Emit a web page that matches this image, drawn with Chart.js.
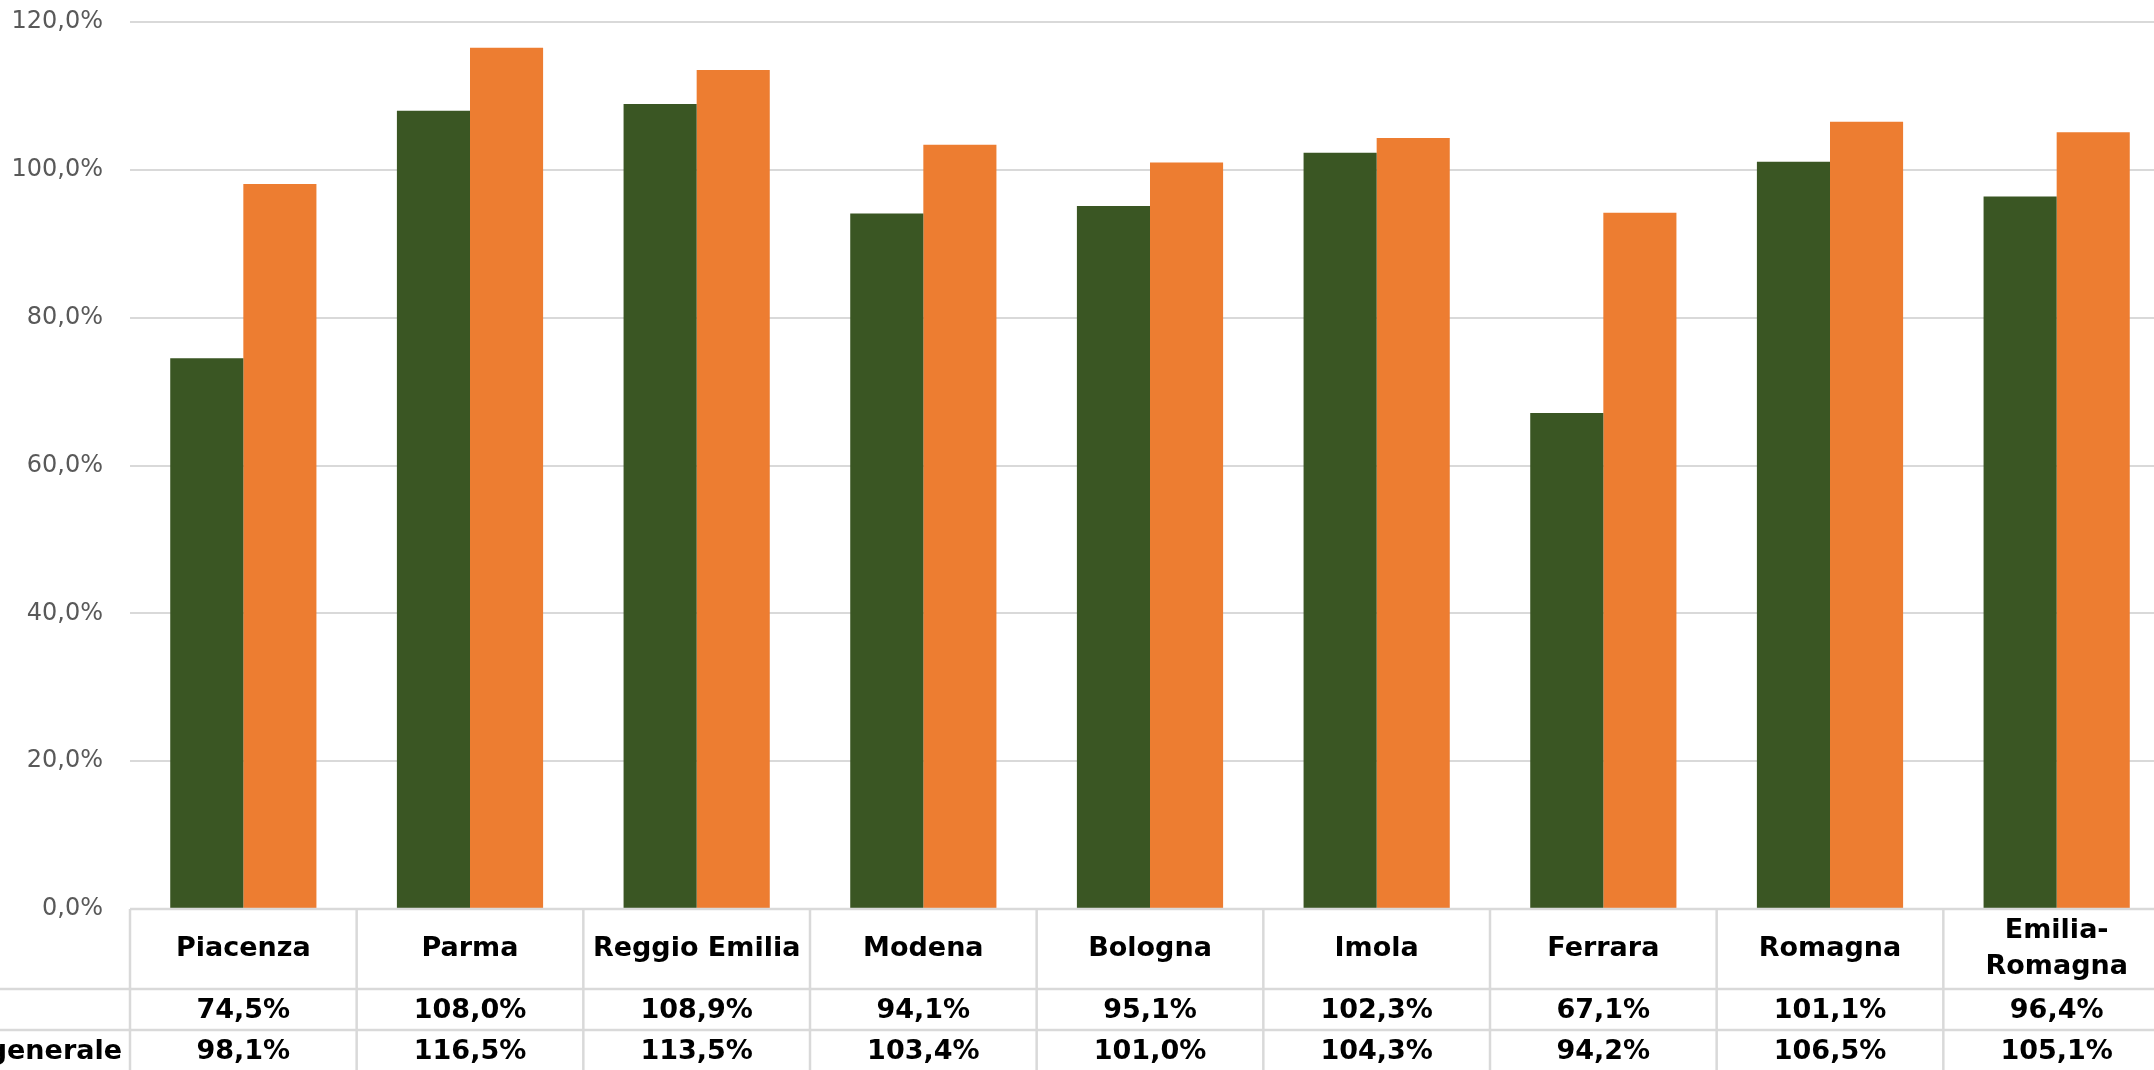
<!DOCTYPE html>
<html>
<head>
<meta charset="utf-8">
<script src="https://cdn.jsdelivr.net/npm/chart.js@4"></script>
<style>
  html, body { margin: 0; padding: 0; background: #fff; overflow: hidden; }
  #wrap { width: 2154px; height: 1070px; overflow: hidden; }
</style>
</head>
<body>
<div id="wrap"><canvas id="chart" width="2170" height="1070"></canvas></div>
<script>
// categories and the two series (percent)
const categories = ["Piacenza", "Parma", "Reggio Emilia", "Modena", "Bologna", "Imola", "Ferrara", "Romagna", "Emilia-Romagna"];
const headerLines = [["Piacenza"], ["Parma"], ["Reggio Emilia"], ["Modena"], ["Bologna"], ["Imola"], ["Ferrara"], ["Romagna"], ["Emilia-", "Romagna"]];
const seriesNames = ["", "generale"];
const greenValues = [74.5, 108.0, 108.9, 94.1, 95.1, 102.3, 67.1, 101.1, 96.4];
const orangeValues = [98.1, 116.5, 113.5, 103.4, 101.0, 104.3, 94.2, 106.5, 105.1];
const yTicks = [0, 20, 40, 60, 80, 100, 120];

const fmt = v => v.toFixed(1).replace(".", ",") + "%";

// draws the data table under the plot, using the x scale for columns
const dataTable = {
  id: "dataTable",
  afterDraw(chart) {
    const ctx = chart.ctx;
    const x = chart.scales.x;
    const area = chart.chartArea;
    const colW = (area.right - area.left) / categories.length;
    const top = area.bottom;
    const row1 = top + 80, row2 = row1 + 41, bottom = chart.height;
    ctx.save();
    ctx.strokeStyle = "#D9D9D9";
    ctx.lineWidth = 2.5;
    ctx.beginPath();
    ctx.moveTo(area.left, top); ctx.lineTo(area.right, top);
    ctx.moveTo(0, row1); ctx.lineTo(area.right, row1);
    ctx.moveTo(0, row2); ctx.lineTo(area.right, row2);
    for (let i = 0; i <= categories.length; i++) {
      const lx = area.left + i * colW;
      ctx.moveTo(lx, top); ctx.lineTo(lx, bottom);
    }
    ctx.stroke();

    ctx.fillStyle = "#000";
    ctx.font = "bold 27px 'DejaVu Sans'";
    ctx.textAlign = "center";
    ctx.textBaseline = "middle";
    categories.forEach((c, i) => {
      const cx = x.getPixelForValue(i);
      const lines = headerLines[i];
      if (lines.length === 1) {
        ctx.fillText(lines[0], cx, (top + row1) / 2);
      } else {
        ctx.fillText(lines[0], cx, (top + row1) / 2 - 18);
        ctx.fillText(lines[1], cx, (top + row1) / 2 + 18);
      }
      ctx.fillText(fmt(greenValues[i]), cx, (row1 + row2) / 2 + 1);
      ctx.fillText(fmt(orangeValues[i]), cx, (row2 + bottom) / 2 + 2);
    });
    ctx.textAlign = "right";
    ctx.fillText(seriesNames[0], area.left - 8, (row1 + row2) / 2 + 1);
    ctx.fillText(seriesNames[1], area.left - 8, (row2 + bottom) / 2 + 2);
    ctx.restore();
  }
};

new Chart(document.getElementById("chart"), {
  type: "bar",
  data: {
    labels: categories,
    datasets: [
      { label: seriesNames[0], data: greenValues, backgroundColor: "#3A5623", borderWidth: 0 },
      { label: seriesNames[1], data: orangeValues, backgroundColor: "#ED7D31", borderWidth: 0 }
    ]
  },
  options: {
    responsive: false,
    animation: false,
    devicePixelRatio: 1,
    layout: { padding: { top: 22, bottom: 161, left: 0, right: 0 } },
    datasets: { bar: { categoryPercentage: 0.645, barPercentage: 1 } },
    plugins: { legend: { display: false }, tooltip: { enabled: false } },
    scales: {
      x: { display: false },
      y: {
        min: 0,
        max: 120,
        afterFit: s => { s.width = 130; s.paddingTop = 0; },
        afterBuildTicks: s => { s.ticks = yTicks.map(v => ({ value: v })); },
        border: { display: false },
        grid: { color: "#D9D9D9", lineWidth: 2, drawTicks: false },
        ticks: {
          padding: 27,
          color: "#595959",
          font: { family: "DejaVu Sans", size: 24 },
          callback: v => fmt(v)
        }
      }
    }
  },
  plugins: [dataTable]
});
</script>
</body>
</html>
